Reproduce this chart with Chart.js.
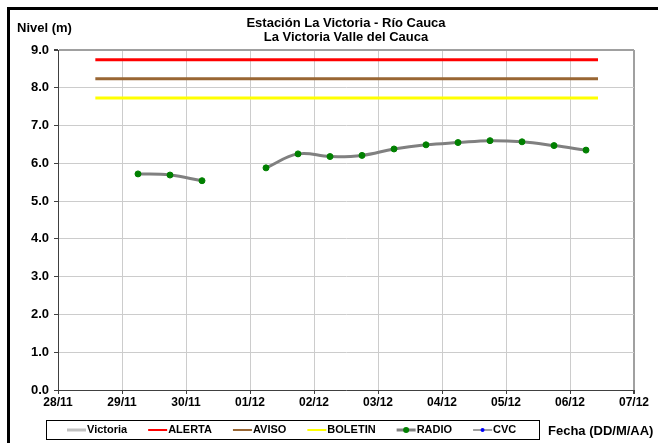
<!DOCTYPE html>
<html lang="es">
<head>
<meta charset="UTF-8">
<title>Estación La Victoria - Río Cauca</title>
<script src="https://cdn.jsdelivr.net/npm/chart.js@4.4.1/dist/chart.umd.min.js"></script>
<style>
  body { margin: 0; background: #fff; }
  canvas { display: block; }
</style>
</head>
<body>
<canvas id="nivelChart" width="658" height="443"></canvas>
<script>
// fechas del eje x (una por día)
const xLabels = ['28/11', '29/11', '30/11', '01/12', '02/12', '03/12', '04/12', '05/12', '06/12', '07/12'];

// lecturas RADIO (cada 12 h), null = sin dato
const radioTimes = ['29/11 06:00', '29/11 18:00', '30/11 06:00', '30/11 18:00', '01/12 06:00',
  '01/12 18:00', '02/12 06:00', '02/12 18:00', '03/12 06:00', '03/12 18:00',
  '04/12 06:00', '04/12 18:00', '05/12 06:00', '05/12 18:00', '06/12 06:00'];
const radioLevels = [5.72, 5.69, 5.54, null, 5.88, 6.25, 6.18, 6.21, 6.38, 6.49, 6.55, 6.60, 6.57, 6.47, 6.35];

// niveles de referencia
const levelTimes = ['28/11 14:00', '06/12 10:30'];
const alerta = 8.74;
const aviso = 8.24;
const boletin = 7.73;

const victoriaLevels = [];
const cvcLevels = [];

// 'dd/mm hh:mm' -> días desde 28/11
function toDays(s) {
  const [d, t] = s.split(' ');
  const [h, m] = t.split(':').map(Number);
  return xLabels.indexOf(d) + (h + m / 60) / 24;
}

const radioData = radioTimes.map((t, i) => ({ x: toDays(t), y: radioLevels[i] }));
const flat = v => levelTimes.map(t => ({ x: toDays(t), y: v }));

const FONT = "'Liberation Sans', Arial, sans-serif";

const frameAndText = {
  id: 'frameAndText',
  afterDraw(chart) {
    const ctx = chart.ctx;
    const area = chart.chartArea;
    ctx.save();
    // marco exterior
    ctx.fillStyle = '#000';
    ctx.fillRect(7, 7, 651, 3);
    ctx.fillRect(7, 7, 3, 436);

    // titulo
    ctx.fillStyle = '#000';
    ctx.textBaseline = 'middle';
    ctx.textAlign = 'center';
    ctx.font = 'bold 13px ' + FONT;
    const cx = (area.left + area.right) / 2;
    ctx.fillText('Estación La Victoria - Río Cauca', cx, 23);
    ctx.fillText('La Victoria Valle del Cauca', cx, 37);

    ctx.textAlign = 'left';
    ctx.fillText('Nivel (m)', 17, 28);

    // leyenda
    const top = 420, bottom = 439, mid = 430;
    ctx.strokeStyle = '#000';
    ctx.lineWidth = 1;
    ctx.strokeRect(46.5, top + 0.5, 493, bottom - top);
    ctx.font = 'bold 11px ' + FONT;
    let x = 67;
    chart.data.datasets.forEach(ds => {
      const lg = ds.legend;
      ctx.strokeStyle = lg.line;
      ctx.lineWidth = lg.width;
      ctx.beginPath();
      ctx.moveTo(x, mid);
      ctx.lineTo(x + 19, mid);
      ctx.stroke();
      if (lg.dot) {
        ctx.fillStyle = lg.dot;
        ctx.beginPath();
        ctx.arc(x + 9.5, mid, lg.r, 0, Math.PI * 2);
        ctx.fill();
      }
      ctx.fillStyle = '#000';
      ctx.fillText(ds.label, x + 20, mid);
      x += 20 + ctx.measureText(ds.label).width + 21;
    });

    ctx.font = 'bold 13px ' + FONT;
    ctx.fillText('Fecha (DD/M/AA)', 548, 431);
    ctx.restore();
  }
};

const ctx = document.getElementById('nivelChart').getContext('2d');
const nivelChart = new Chart(ctx, {
  type: 'line',
  data: {
    datasets: [
      {
        label: 'Victoria', data: victoriaLevels,
        borderColor: '#c0c0c0', borderWidth: 3, pointRadius: 0,
        legend: { line: '#c0c0c0', width: 3 }
      },
      {
        label: 'ALERTA', data: flat(alerta),
        borderColor: '#ff0000', borderWidth: 3, pointRadius: 0,
        legend: { line: '#ff0000', width: 2 }
      },
      {
        label: 'AVISO', data: flat(aviso),
        borderColor: '#996633', borderWidth: 3, pointRadius: 0,
        legend: { line: '#996633', width: 2 }
      },
      {
        label: 'BOLETIN', data: flat(boletin),
        borderColor: '#ffff00', borderWidth: 3, pointRadius: 0,
        legend: { line: '#ffff00', width: 2 }
      },
      {
        label: 'RADIO', data: radioData,
        borderColor: '#808080', borderWidth: 3, tension: 0.4, spanGaps: false,
        pointRadius: 3, pointBackgroundColor: '#008000', pointBorderColor: '#008000', pointBorderWidth: 1,
        legend: { line: '#808080', width: 3, dot: '#008000', r: 3 }
      },
      {
        label: 'CVC', data: cvcLevels,
        borderColor: '#a0a0a0', borderWidth: 2, pointRadius: 2,
        pointBackgroundColor: '#0000ff', pointBorderColor: '#0000ff',
        legend: { line: '#a0a0a0', width: 2, dot: '#0000ff', r: 2 }
      }
    ]
  },
  options: {
    responsive: false,
    animation: false,
    layout: { padding: { left: 0, top: 50, right: 24, bottom: 0 } },
    plugins: {
      legend: { display: false },
      title: { display: false },
      tooltip: { enabled: false }
    },
    scales: {
      x: {
        type: 'linear', min: 0, max: 9,
        afterFit: s => { s.height = 53; },
        ticks: {
          stepSize: 1, autoSkip: false, maxRotation: 0, padding: 1,
          color: '#000', font: { family: FONT, size: 12, weight: 'bold' },
          callback: v => xLabels[v]
        },
        grid: {
          color: c => c.tick && c.tick.value === 9 ? '#a0a0a0' : '#cccccc',
          lineWidth: c => c.tick && c.tick.value === 9 ? 2 : 1,
          tickColor: '#404040', tickLength: 4
        },
        border: { color: '#404040', width: 1 }
      },
      y: {
        min: 0, max: 9,
        afterFit: s => { s.width = 58; },
        ticks: {
          stepSize: 1, padding: 5,
          color: '#000', font: { family: FONT, size: 13, weight: 'bold' },
          callback: v => v.toFixed(1)
        },
        grid: {
          color: c => c.tick && c.tick.value === 9 ? '#a0a0a0' : '#cccccc',
          lineWidth: c => c.tick && c.tick.value === 9 ? 2 : 1,
          tickColor: '#404040', tickLength: 4
        },
        border: { color: '#404040', width: 1 }
      }
    }
  },
  plugins: [frameAndText]
});
</script>
</body>
</html>
